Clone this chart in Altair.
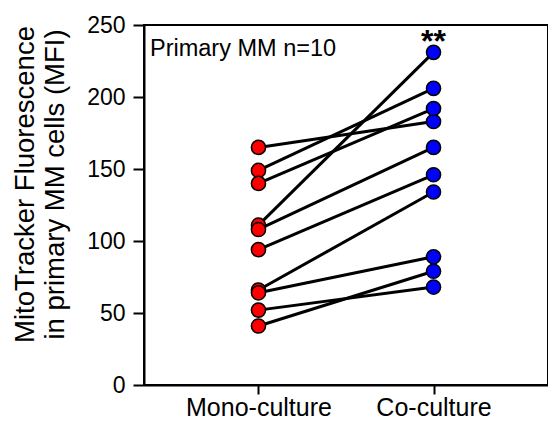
import altair as alt
import pandas as pd

conditions = ["Mono-culture", "Co-culture"]
mono = [165, 149, 140, 111, 108, 94, 66, 64, 52, 41]
co = [183, 206, 192, 231, 165, 146, 134, 89, 68, 79]
pair_ids = list(range(1, 11))
y_ticks = [0, 50, 100, 150, 200, 250]
point_colors = ["#FF0000", "#0000FF"]

rows = []
for pid, m, c in zip(pair_ids, mono, co):
    rows.append({"pair": pid, "condition": conditions[0], "value": m})
    rows.append({"pair": pid, "condition": conditions[1], "value": c})
df = pd.DataFrame(rows)

font = "Liberation Sans"

x = alt.X(
    "condition:N",
    sort=conditions,
    scale=alt.Scale(type="point", padding=0.654),
    axis=alt.Axis(title=None, labelAngle=0, labelFontSize=25, labelPadding=1,
                  labelColor="black", tickSize=9),
)
y = alt.Y(
    "value:Q",
    scale=alt.Scale(domain=[0, 250], nice=False),
    axis=alt.Axis(values=y_ticks, labelFontSize=23, labelPadding=8, labelColor="black",
                  tickSize=11,
                  title=["MitoTracker Fluorescence", "in primary MM cells (MFI)"],
                  titleFontSize=27.5, titleFontWeight="normal", titleLineHeight=30,
                  titlePadding=17, titleColor="black", titleY=159),
)

lines = alt.Chart(df).mark_line(color="black", strokeWidth=3).encode(
    x=x, y=y, detail="pair:N"
)
points = alt.Chart(df).mark_circle(size=200, stroke="black", strokeWidth=1.5, opacity=1).encode(
    x=x, y=y,
    fill=alt.Fill("condition:N", scale=alt.Scale(domain=conditions, range=point_colors), legend=None),
)

label_df = pd.DataFrame({"text": ["Primary MM n=10"]})
label = alt.Chart(label_df).mark_text(
    align="left", baseline="alphabetic", fontSize=23.5, font=font, color="black"
).encode(x=alt.value(6), y=alt.value(31), text="text:N")

star_df = pd.DataFrame({"condition": ["Co-culture"], "value": [231], "text": ["**"]})
stars = alt.Chart(star_df).mark_text(
    baseline="alphabetic", fontSize=32, fontWeight="bold", font=font, color="black", dy=0
).encode(x=x, y=y, text="text:N")

chart = (lines + points + label + stars).properties(
    width=404, height=360,
    autosize=alt.AutoSizeParams(type="none"),
    padding={"left": 136, "top": 17, "right": 0, "bottom": 34},
).configure(font=font).configure_view(
    stroke="black", strokeWidth=2
).configure_axis(
    domainColor="black", domainWidth=2, tickColor="black", tickWidth=2,
    grid=False, labelFont=font, titleFont=font,
)

chart.save("out.html", embed_options={"renderer": "svg", "actions": False})
